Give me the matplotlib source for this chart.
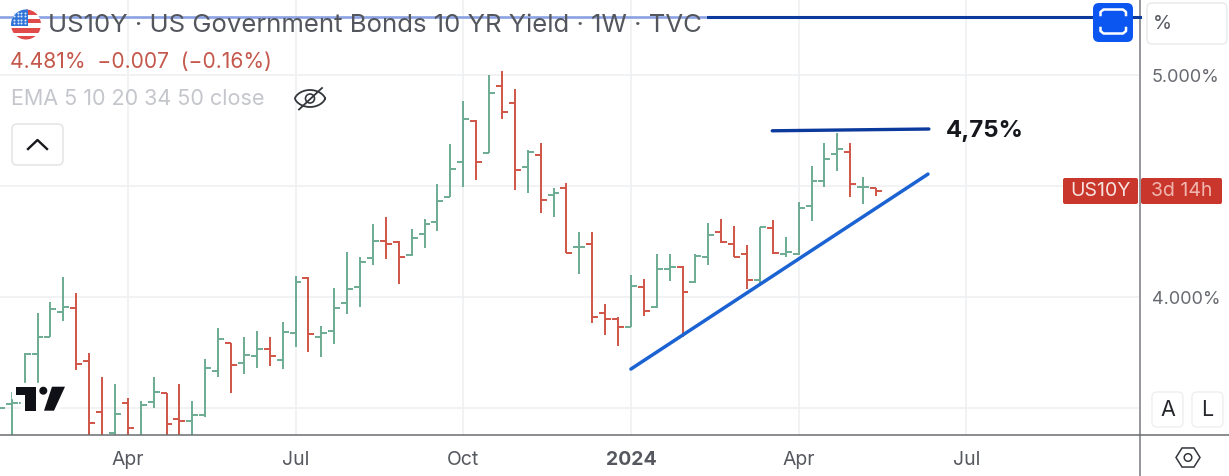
# python3 plot.py

import matplotlib
matplotlib.use('Agg')
import numpy as np
from matplotlib import pyplot as plt
from matplotlib import patheffects
from matplotlib.patches import Circle, FancyBboxPatch, Polygon, Rectangle

plt.rcParams['font.family'] = ['Inter', 'Roboto', 'DejaVu Sans']

# weekly bars, yields in percent (the first ones run below the visible range)
weeks = np.arange(69)
opens = [3.48, 3.518, 3.523, 3.743, 3.82, 3.935, 3.953, 3.713, 3.482, 3.387, 3.523, 3.37,
         3.527, 3.571, 3.45, 3.444, 3.47, 3.668, 3.796, 3.703, 3.737, 3.766, 3.718, 3.841,
         4.086, 3.82, 3.85, 3.973, 4.045, 4.176, 4.255, 4.248, 4.191, 4.285, 4.341, 4.45,
         4.611, 4.796, 4.652, 4.952, 4.877, 4.589, 4.641, 4.461, 4.494, 4.228, 4.24,
         3.931, 3.901, 3.868, 4.045, 3.955, 4.128, 4.138, 4.069, 4.183, 4.293, 4.239, 4.195,
         4.078, 4.311, 4.194, 4.194, 4.413, 4.525, 4.644, 4.656, 4.495, 4.491]
highs = [3.55, 3.572, 3.748, 3.928, 3.977, 4.09, 4.018, 3.748, 3.643, 3.61, 3.545, 3.535,
         3.64, 3.571, 3.61, 3.533, 3.721, 3.86, 3.796, 3.823, 3.85, 3.823, 3.89, 4.096,
         4.09, 3.872, 4.044, 4.206, 4.18, 4.329, 4.363, 4.255, 4.308, 4.351, 4.509, 4.689,
         4.886, 4.799, 5.002, 5.021, 4.937, 4.664, 4.694, 4.491, 4.514, 4.296, 4.296,
         3.968, 3.91, 4.101, 4.081, 4.195, 4.194, 4.143, 4.194, 4.333, 4.353, 4.321, 4.236,
         4.318, 4.348, 4.273, 4.428, 4.593, 4.694, 4.739, 4.694, 4.543, 4.494]
lows = [3.3, 3.3, 3.508, 3.508, 3.82, 3.895, 3.673, 3.3, 3.3, 3.3, 3.3, 3.3,
        3.5, 3.3, 3.3, 3.3, 3.46, 3.643, 3.571, 3.653, 3.683, 3.691, 3.677, 3.778,
        3.755, 3.73, 3.79, 3.925, 3.955, 4.146, 4.173, 4.059, 4.186, 4.221, 4.3, 4.45,
        4.498, 4.529, 4.652, 4.802, 4.483, 4.471, 4.378, 4.36, 4.198, 4.104, 3.886,
        3.83, 3.781, 3.865, 3.916, 3.953, 4.074, 3.82, 4.063, 4.146, 4.246, 4.18, 4.036,
        4.06, 4.195, 4.183, 4.191, 4.344, 4.495, 4.569, 4.453, 4.419, 4.458]
closes = [3.503, 3.526, 3.743, 3.823, 3.946, 3.955, 3.698, 3.435, 3.36, 3.473, 3.413, 3.515,
          3.575, 3.428, 3.444, 3.47, 3.68, 3.811, 3.695, 3.74, 3.767, 3.737, 3.844, 4.069,
          3.833, 3.841, 3.953, 4.038, 4.158, 4.255, 4.239, 4.18, 4.266, 4.33, 4.434, 4.577,
          4.803, 4.608, 4.919, 4.836, 4.574, 4.653, 4.438, 4.471, 4.198, 4.228, 3.913,
          3.901, 3.865, 4.053, 3.938, 4.126, 4.135, 4.023, 4.186, 4.281, 4.251, 4.183, 4.078,
          4.315, 4.198, 4.206, 4.404, 4.525, 4.621, 4.667, 4.51, 4.495, 4.48]

x_ticks = [10, 23, 36, 49, 62, 75]
x_labels = ['Apr', 'Jul', 'Oct', '2024', 'Apr', 'Jul']
y_ticks = [3.5, 4.0, 4.5, 5.0]
y_labels = ['', '4.000%', '', '5.000%']

# hand drawn lines on the chart (week, yield)
trend_x = [49, 72.03]
trend_y = [3.677, 4.555]
resist_x = [59.96, 72.1]
resist_y = [4.75, 4.758]

GREEN = '#6dab93'
RED = '#cf5548'
W, H = 1229, 476

fig = plt.figure(figsize=(W / 100, H / 100), dpi=100, facecolor='white')
ax = fig.add_axes([0, (H - 435) / H, 1140 / W, 435 / H])
ax.set_xlim(0.093, 88.465)
ax.set_ylim(3.380, 5.339)

ax.grid(True, color='#eff0f2', linewidth=1.2)
ax.set_axisbelow(True)
ax.set_xticks(x_ticks)
ax.set_xticklabels(x_labels, fontsize=14, color='#55585f')
ax.get_xticklabels()[3].set_fontweight('bold')
ax.yaxis.tick_right()
ax.set_yticks(y_ticks)
ax.set_yticklabels(y_labels, fontsize=13, color='#66696f')
ax.tick_params(length=0)
ax.tick_params(axis='x', pad=11.5)
ax.tick_params(axis='y', pad=8.5)
for s in ['top', 'left', 'right', 'bottom']:
    ax.spines[s].set_visible(False)

# OHLC bars
opens, highs, lows, closes = map(np.array, (opens, highs, lows, closes))
colors = [GREEN if c >= o else RED for o, c in zip(opens, closes)]
ax.vlines(weeks, lows, highs, colors=colors, linewidth=1.4)
ax.hlines(opens, weeks - 0.46, weeks, colors=colors, linewidth=1.4)
ax.hlines(closes, weeks, weeks + 0.46, colors=colors, linewidth=1.4)

ax.plot(trend_x, trend_y, color='#1b62d2', linewidth=2.5, solid_capstyle='round')
ax.plot(resist_x, resist_y, color='#0b3a9c', linewidth=2.4, solid_capstyle='round')

# pixel overlay for the app's furniture
ov = fig.add_axes([0, 0, 1, 1], facecolor='none')
ov.set_xlim(0, W)
ov.set_ylim(H, 0)
ov.axis('off')

ov.plot([1140, 1140], [0, H], color='#8d8f93', linewidth=1.3)
ov.plot([0, W], [435, 435], color='#6a6c70', linewidth=1.1)
ov.plot([0, 705], [17, 17], color='#8ba2e2', linewidth=1.9)
ov.plot([708, 1140], [17, 17], color='#0b3a9c', linewidth=2.2)


def box(x, y, w, h, fc, ec='none', r=5, lw=1.0, z=3):
    p = FancyBboxPatch((x + r, y + r), w - 2 * r, h - 2 * r,
                       boxstyle='round,pad=%d,rounding_size=%d' % (r, r),
                       fc=fc, ec=ec, lw=lw, zorder=z)
    ov.add_patch(p)
    return p


# flag
flag = Circle((26, 24.5), 15, fc='white', ec='none', zorder=3)
ov.add_patch(flag)
for y0, h0, x0 in [(9, 6, 26), (19, 4, 26), (28, 5, 11), (36, 5, 11)]:
    r = Rectangle((x0, y0), 41 - x0, h0, fc='#e04a48', ec='none', zorder=3.1)
    ov.add_patch(r)
    r.set_clip_path(flag)
r = Rectangle((11, 9), 17, 17, fc='#2f74d8', ec='none', zorder=3.2)
ov.add_patch(r)
r.set_clip_path(flag)
dots_x, dots_y = np.meshgrid([14, 17.5, 21, 24.5], [12.5, 16, 19.5, 23])
ov.scatter(dots_x.ravel(), dots_y.ravel(), s=2.2, color='#dbe7fb', linewidths=0, zorder=3.3)

ov.text(48, 25, 'US10Y · US Government Bonds 10 YR Yield · 1W · TVC', fontsize=18.5, color='#53565c',
        va='center', ha='left', zorder=4)
ov.text(10, 62, '4.481%  \u22120.007  (\u22120.16%)', fontsize=15.2, color='#c5584c', va='center', ha='left', zorder=4)
ov.text(11, 99, 'EMA 5 10 20 34 50 close', fontsize=15.5, color='#c4c6cc', va='center', ha='left', zorder=4)
ov.text(946, 131, '4,75%', fontsize=17.3, fontweight='bold', color='#15171c', va='center', ha='left', zorder=4)

# eye icon
t = np.linspace(0, 2 * np.pi, 60)
ov.plot(310 + 15 * np.cos(t), 98.5 + 8.5 * np.sin(t) * np.abs(np.sin(t)) ** 0.3, color='#33363b', linewidth=1.3, zorder=4)
ov.add_patch(Circle((310, 98.5), 4.5, fc='none', ec='#33363b', lw=1.2, zorder=4))
ov.plot([299, 322], [109.5, 88], color='#33363b', linewidth=1.3, zorder=4)

# chevron button
box(12, 124, 51, 41, 'white', '#e3e4e7', lw=1.1)
ov.plot([28, 37.5, 47], [149, 140, 149], color='#17181c', linewidth=1.7, zorder=4)

# tv logo
logo_fx = [patheffects.withStroke(linewidth=6, foreground='white')]
for pts in [[(16, 386.7), (36, 386.7), (36, 410.7), (25, 410.7), (25, 395), (16, 395)],
            [(52, 386.7), (65, 386.7), (54, 410.7), (44, 410.7)]]:
    ov.add_patch(Polygon(pts, closed=True, fc='#101116', ec='none', zorder=4, path_effects=logo_fx))
ov.add_patch(Circle((43.3, 390.7), 4, fc='#101116', ec='none', zorder=4.1))

# blue full screen button
box(1093, 3, 40, 39, '#0b56f0', r=6)
ov.plot([1100.5, 1100.5, 1103.5, 1123, 1126, 1126], [15, 12, 9.5, 9.5, 12, 15], color='white', linewidth=1.8, zorder=4)
ov.plot([1100.5, 1100.5, 1103.5, 1123, 1126, 1126], [28, 31, 33.5, 33.5, 31, 28], color='white', linewidth=1.8, zorder=4)

# percent button
box(1147, 3, 80, 41, 'white', '#e8e9eb', lw=1.0)
ov.text(1153, 24, '%', fontsize=14, color='#55585f', va='center', ha='left', zorder=4)

# price label
box(1063, 178, 75, 26, '#c9372c', r=2)
box(1141, 178, 81, 26, '#c9372c', r=2)
ov.text(1100.5, 191, 'US10Y', fontsize=14, color='#f7e3e0', va='center', ha='center', zorder=4)
ov.text(1182, 191, '3d 14h', fontsize=14, color='#f0b5ae', va='center', ha='center', zorder=4)

# A / L buttons
box(1152, 392, 31, 35, 'white', '#eeeff1', lw=1.0)
box(1192, 392, 31, 35, 'white', '#eeeff1', lw=1.0)
ov.text(1167.5, 409.5, 'A', fontsize=15.5, color='#26282d', va='center', ha='center', zorder=4)
ov.text(1207.5, 409.5, 'L', fontsize=15.5, color='#26282d', va='center', ha='center', zorder=4)

# settings hexagon
ang = np.deg2rad(np.arange(0, 360, 60))
ov.add_patch(Polygon(np.c_[1188 + 12 * np.cos(ang), 457.5 + 11 * np.sin(ang)], closed=True, fc='none', ec='#33363b', lw=1.1, zorder=4))
ov.add_patch(Circle((1188, 457.5), 3.8, fc='none', ec='#33363b', lw=1.1, zorder=4))

fig.savefig('out.png', dpi=100)
